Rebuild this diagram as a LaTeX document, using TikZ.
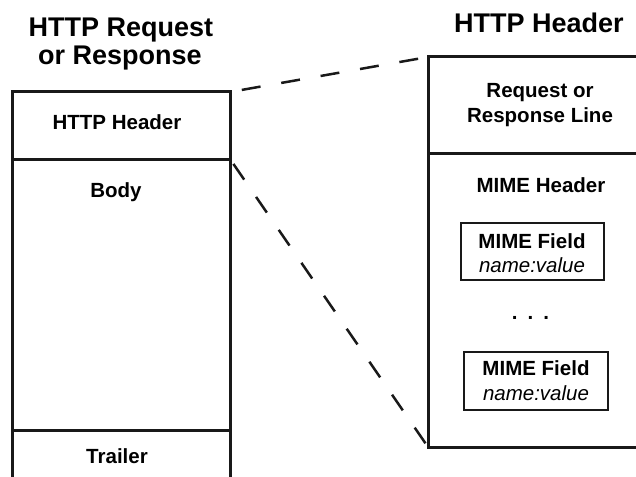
\documentclass[tikz,border=0pt]{standalone}
\usepackage{fontspec}
\setmainfont{Liberation Sans}
\begin{document}
\begin{tikzpicture}[x=1pt,y=-1pt,
  box/.style={draw=black!90, line width=3pt, inner sep=0pt, outer sep=0pt, anchor=north west},
  fieldbox/.style={draw=black!90, line width=2.5pt, inner sep=0pt, outer sep=0pt, anchor=north west},
  title/.style={font=\fontsize{27}{28}\selectfont\bfseries, anchor=base, inner sep=0pt},
  lbl/.style={font=\fontsize{20.5}{24}\selectfont\bfseries, anchor=base, inner sep=0pt},
  ital/.style={font=\fontsize{20.5}{24}\selectfont\itshape, anchor=base, inner sep=0pt},
  dashline/.style={line width=2.5pt, draw=black!90}
]
\useasboundingbox (0,0) rectangle (636,476);
\clip (0,0) rectangle (636,476);
% titles
\node[title] (t1) at (121,37) {HTTP Request};
\node[title] (t2) at (120,65) {or Response};
\node[title] (t3) at (539,33) {HTTP Header};
% left box
\node[box, minimum width=218pt, minimum height=67pt] (lhdr) at (12,92) {};
\node[box, minimum width=218pt, minimum height=271pt] (lbody) at (12,159) {};
\node[box, minimum width=218pt, minimum height=80pt] (ltrl) at (12,430) {};
\node[lbl] (lhdrtxt) at (117,129) {HTTP Header};
\node[lbl] (lbodytxt) at (116,197) {Body};
\node[lbl] (ltrltxt) at (117,463) {Trailer};
% right box
\node[box, minimum width=240pt, minimum height=96pt] (rtop) at (428,57) {};
\node[box, minimum width=240pt, minimum height=294pt] (rbot) at (428,153) {};
\node[lbl] (rl1) at (540,98) {Request or};
\node[lbl] (rl2) at (540,122) {Response Line};
\node[lbl] (mh) at (541,192) {MIME Header};
% MIME fields
\node[fieldbox, minimum width=143pt, minimum height=57pt] (f1) at (461,223) {};
\node[lbl] (f1a) at (532,248) {MIME Field};
\node[ital] (f1b) at (532,272) {name:value};
\node[lbl] (dots) at (530.5,319) {.\hspace{10pt}.\hspace{10pt}.};
\node[fieldbox, minimum width=144pt, minimum height=58pt] (f2) at (464,352) {};
\node[lbl] (f2a) at (536,375) {MIME Field};
\node[ital] (f2b) at (536,400) {name:value};
% dashed connectors
\draw[dashline, dash pattern=on 19pt off 21pt, dash phase=28pt] (lhdr.north east) -- (rtop.north west);
\draw[dashline, dash pattern=on 19pt off 21pt, dash phase=34pt] (lhdr.south east) -- (rbot.south west);
\end{tikzpicture}
\end{document}
